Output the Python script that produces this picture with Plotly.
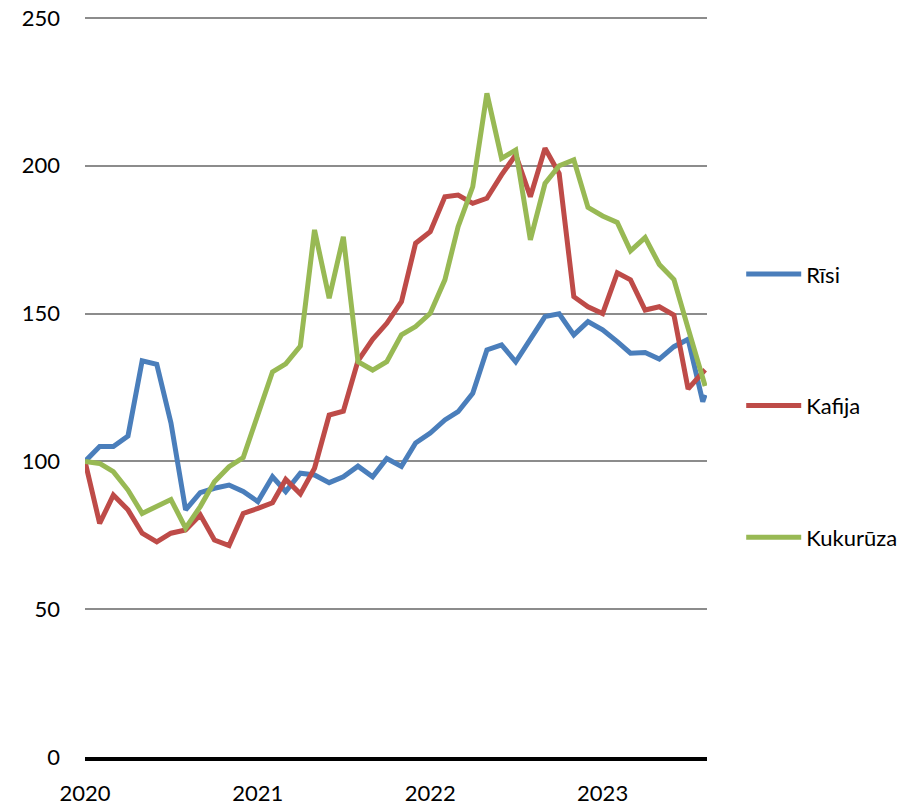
import pandas as pd
import plotly.graph_objects as go

# Monthly dates Jan 2020 .. Aug 2023 plus the latest observation
months = list(pd.date_range("2020-01-01", periods=44, freq="MS").strftime("%Y-%m-%d"))
dates = months + ["2023-08-06"]

risi = [100, 105, 105, 108.6, 134, 132.8, 113, 83.6, 89.4, 90.9,
        92, 89.8, 86.4, 94.8, 89.8, 96, 95.4, 92.8, 94.8, 98.4,
        94.8, 101, 98.3, 106.2, 109.6, 114, 116.8, 123, 137.7, 139.4,
        133.7, 141.7, 149, 149.9, 142.8, 147.3, 144.5, 140.5, 136.6, 136.8,
        134.6, 138.8, 141.3, 120.2, 122.5]

kafija = [100, 79, 88.6, 83.6, 75.7, 72.8, 75.7, 76.8, 81.9, 73.4,
          71.5, 82.4, 84.1, 86, 93.9, 89, 97.7, 115.7, 117, 134,
          141.3, 146.7, 154, 173.8, 177.7, 189.5, 190.1, 187.3, 189, 196.9,
          203.7, 189.5, 205.9, 197.4, 155.7, 152.3, 150, 163.8, 161.4, 151.2,
          152.3, 149.5, 124.5, 130, 131]

kukuruza = [100, 99.3, 96.5, 90.3, 82.4, 84.7, 87.1, 77.4, 84.7, 93.1,
            98.2, 101.3, 115.7, 130.3, 133, 139, 178.3, 155.2, 176, 133.7,
            130.9, 133.7, 142.8, 145.6, 150.1, 161.4, 179.4, 192.9, 224.5, 202.5,
            205.3, 174.9, 194, 200, 202, 185.9, 183, 180.8, 171.2, 175.7,
            166.6, 161.5, 145, 128, 125.5]

series = [("Rīsi", risi, "#4A7EBB"),
          ("Kafija", kafija, "#BE4B48"),
          ("Kukurūza", kukuruza, "#98B954")]

year_ticks = ["2020-01-01", "2021-01-01", "2022-01-01", "2023-01-01"]
year_labels = ["2020", "2021", "2022", "2023"]
y_ticks = [0, 50, 100, 150, 200, 250]

FONT = "Lato, Calibri, Carlito, sans-serif"

fig = go.Figure()
for i, (name, vals, col) in enumerate(series):
    fig.add_trace(go.Scatter(
        x=dates, y=vals, name=name, mode="lines",
        line=dict(color=col, width=5, shape="linear"),
        legendgroup=f"g{i}",
    ))

fig.update_layout(
    width=913, height=806,
    margin=dict(l=85, r=206, t=15, b=49, autoexpand=False),
    paper_bgcolor="white", plot_bgcolor="white",
    font=dict(family=FONT, size=22, color="#000000"),
    showlegend=True,
    legend=dict(
        x=1.055, xanchor="left", y=0.679, yanchor="top",
        tracegroupgap=100, itemwidth=55,
        font=dict(family=FONT, size=22, color="#000000"),
        bgcolor="rgba(0,0,0,0)",
    ),
    xaxis=dict(
        type="date", automargin=False,
        range=["2020-01-01", "2023-08-10"],
        tickvals=year_ticks, ticktext=year_labels,
        showgrid=False, zeroline=False,
        showline=True, linecolor="#000000", linewidth=4,
        ticks="", ticklabelstandoff=14,
        tickfont=dict(family=FONT, size=22, color="#000000"),
    ),
    yaxis=dict(
        range=[0, 251], automargin=False,
        tickvals=y_ticks,
        showgrid=True, gridcolor="#8C8C8C", gridwidth=2,
        zeroline=False, showline=False,
        ticks="", ticklabelstandoff=24,
        tickfont=dict(family=FONT, size=22, color="#000000"),
    ),
)

fig.write_html(
    "out.html",
    config={"displayModeBar": False},
    post_script="document.body.style.margin='0';document.body.style.overflow='hidden';",
)
